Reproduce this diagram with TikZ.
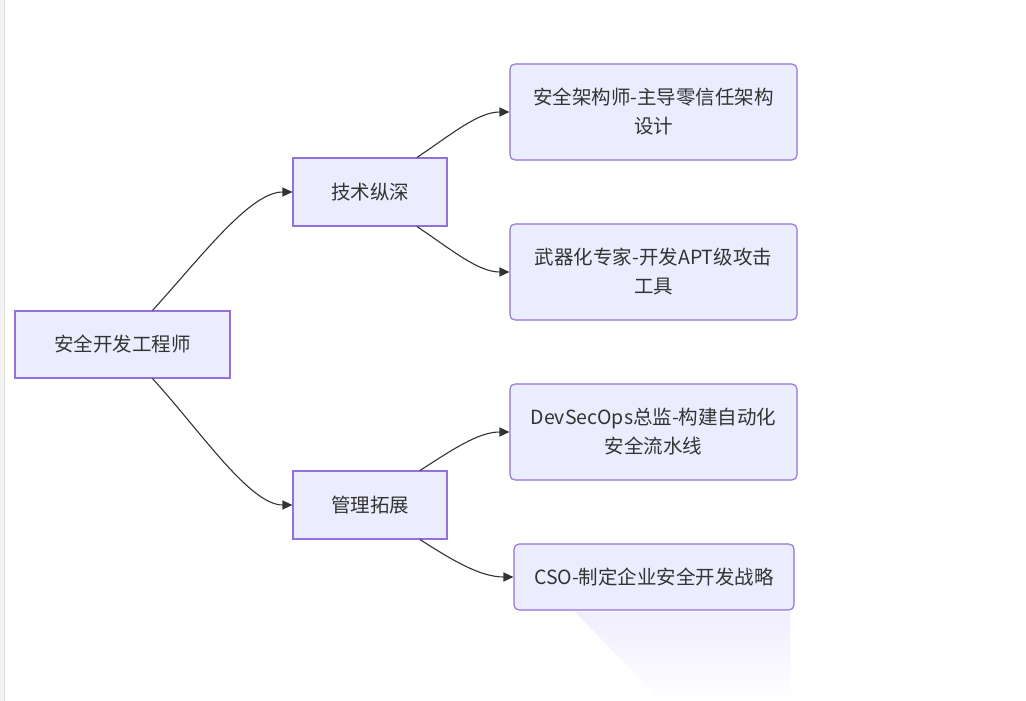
\documentclass[tikz,border=0pt]{standalone}
\usepackage{fontspec}
\newfontfamily\cjk{Noto Sans CJK SC}
\usetikzlibrary{arrows.meta,fadings}
\definecolor{nodefill}{HTML}{ECECFF}
\definecolor{nodeborder}{HTML}{9370DB}
\definecolor{txt}{HTML}{333333}
\definecolor{edgec}{HTML}{333333}
\definecolor{leftbar}{HTML}{F3F3F3}
\definecolor{blob}{HTML}{F1EEFF}
\tikzset{
  box/.style={draw=nodeborder, fill=nodefill, line width=1.1pt, text=txt,
    font=\cjk\fontsize{19.5}{29}\selectfont, align=center, inner sep=0pt},
  sqbox/.style={box, sharp corners},
  leafbox/.style={box, rounded corners=5pt},
  edge/.style={draw=edgec, line width=1.1pt, -{Triangle[length=10pt,width=9pt]}},
}
\begin{document}
\begin{tikzpicture}[x=1pt,y=-1pt]
\useasboundingbox (0,0) rectangle (1026,701);
\fill[white] (0,0) rectangle (1026,701);
\fill[leftbar] (0,0) rectangle (5,701);
\draw[draw=black!12, line width=0.6pt] (4.5,0) -- (4.5,701);
% faint blob artifact
\fill[blob, path fading=south] (575,612) -- (790,612) -- (790,700) -- (660,700) -- cycle;

\node[sqbox, minimum width=215pt, minimum height=67pt] (root) at (122.5,344.5) {安全开发工程师};
\node[sqbox, minimum width=154pt, minimum height=68pt] (tech) at (370,192) {技术纵深};
\node[sqbox, minimum width=154pt, minimum height=68pt] (mgmt) at (370,505) {管理拓展};
\node[leafbox, minimum width=287pt, minimum height=96pt] (l1) at (653.5,112) {安全架构师-主导零信任架构\\设计};
\node[leafbox, minimum width=287pt, minimum height=96pt] (l2) at (653.5,272) {武器化专家-开发APT级攻击\\工具};
\node[leafbox, minimum width=287pt, minimum height=96pt] (l3) at (653.5,432) {DevSecOps总监-构建自动化\\安全流水线};
\node[leafbox, minimum width=280pt, minimum height=66pt] (l4) at (654,577) {CSO-制定企业安全开发战略};

\draw[edge] ([xshift=30pt]root.north) .. controls (202,256) and (250,192) .. (tech.west);
\draw[edge] ([xshift=30pt]root.south) .. controls (202,433) and (250,505) .. (mgmt.west);
\draw[edge] ([xshift=47pt]tech.north) .. controls (452,134) and (478,112) .. (l1.west);
\draw[edge] ([xshift=47pt]tech.south) .. controls (452,250) and (478,272) .. (l2.west);
\draw[edge] ([xshift=50pt]mgmt.north) .. controls (452,450) and (478,432) .. (l3.west);
\draw[edge] ([xshift=50pt]mgmt.south) .. controls (452,560) and (480,577) .. (l4.west);
\end{tikzpicture}
\end{document}
